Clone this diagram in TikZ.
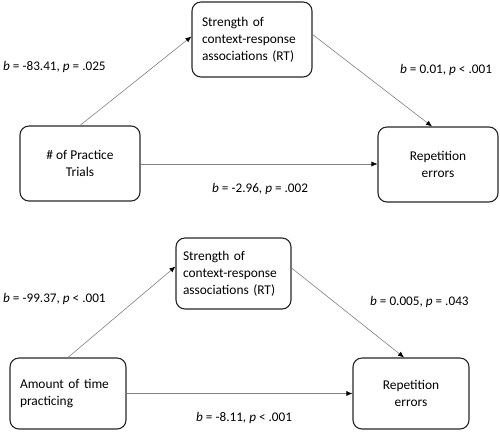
\documentclass[tikz,border=0pt]{standalone}
\usepackage{fontspec}
\setmainfont{Carlito}
\usetikzlibrary{arrows.meta}
\begin{document}
\begin{tikzpicture}[x=1pt,y=-1pt,
  box/.style={draw=black!85, line width=1.1pt, rounded corners=9pt, font=\fontsize{13.4}{16.8}\selectfont},
  cbox/.style={box, align=center},
  lbox/.style={box, align=left},
  link/.style={draw=black!50, line width=0.6pt, -{Latex[length=6pt,width=5pt,black]}},
  lab/.style={font=\fontsize{13.2}{15}\selectfont, inner sep=0pt}]
\useasboundingbox (0,0) rectangle (500,432);
% top diagram
\node[lbox, minimum width=120pt, minimum height=75pt, text width=100pt, inner xsep=10pt] (med1) at (252,39.5) {Strength of\\context-response\\associations (RT)};
\node[cbox, minimum width=120pt, minimum height=75pt] (pred1) at (80,163.5) {\# of Practice\\Trials};
\node[cbox, minimum width=120pt, minimum height=75pt] (out1) at (438,164.5) {Repetition\\errors};
\draw[link] (pred1.north) -- ([yshift=3pt]med1.west);
\draw[link] ([yshift=5pt]med1.east) -- ([xshift=-6pt]out1.north);
\draw[link] ([yshift=-0.5pt]pred1.east) -- ([yshift=-0.5pt]pred1.east -| out1.west);
\node[lab, anchor=west] (l1) at (3,67) {\textit{b} = -83.41, \textit{p} = .025};
\node[lab, anchor=west] (l2) at (400,70) {\textit{b} = 0.01, \textit{p} {<} .001};
\node[lab, anchor=west] (l3) at (212,189) {\textit{b} = -2.96, \textit{p} = .002};
% bottom diagram
\node[lbox, minimum width=115pt, minimum height=71pt, text width=101pt, inner xsep=7pt] (med2) at (233.5,273.5) {Strength of\\context-response\\associations (RT)};
\node[lbox, minimum width=116pt, minimum height=71pt, text width=96pt, inner xsep=10pt] (pred2) at (68,393.5) {Amount of time\\practicing};
\node[cbox, minimum width=116pt, minimum height=71pt] (out2) at (411,393.5) {Repetition\\errors};
\draw[link] (pred2.north) -- ([yshift=7pt]med2.west);
\draw[link] ([yshift=5.5pt]med2.east) -- ([xshift=-7pt]out2.north);
\draw[link] (pred2.east) -- (out2.west);
\node[lab, anchor=west] (l4) at (3,299) {\textit{b} = -99.37, \textit{p} {<} .001};
\node[lab, anchor=west] (l5) at (370,302) {\textit{b} = 0.005, \textit{p} = .043};
\node[lab, anchor=west] (l6) at (196,418) {\textit{b} = -8.11, \textit{p} {<} .001};
\end{tikzpicture}
\end{document}
